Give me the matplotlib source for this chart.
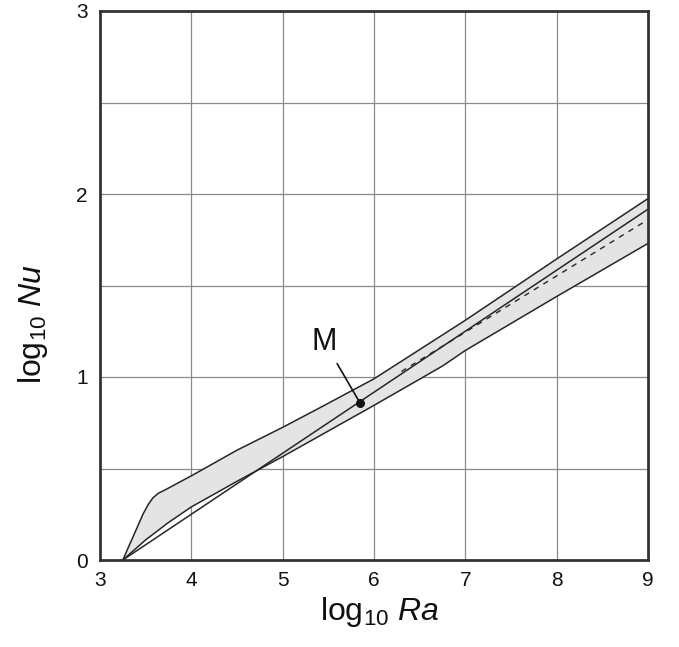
import matplotlib
matplotlib.use("Agg")
import matplotlib.pyplot as plt
import numpy as np

plt.rcParams['font.family'] = ['Liberation Sans', 'DejaVu Sans']
plt.rcParams['mathtext.fontset'] = 'custom'
plt.rcParams['mathtext.rm'] = 'Liberation Sans'
plt.rcParams['mathtext.it'] = 'Liberation Sans:italic'

# Data
upper_x = [3.25, 3.32, 3.40, 3.47, 3.53, 3.58, 3.64, 3.72, 3.85, 4.0, 4.5, 5.0, 5.4, 6.0, 7.0, 8.0, 9.0]
upper_y = [0.0, 0.08, 0.17, 0.25, 0.305, 0.34, 0.365, 0.385, 0.42, 0.46, 0.60, 0.725, 0.83, 0.99, 1.31, 1.645, 1.975]
lower_x = [3.25, 3.5, 3.75, 4.0, 4.5, 5.0, 5.5, 6.0, 6.75, 7.0, 8.0, 9.0]
lower_y = [0.0, 0.11, 0.205, 0.29, 0.43, 0.565, 0.705, 0.845, 1.06, 1.145, 1.44, 1.73]
line_x = [3.25, 9.0]
line_y = [0.0, 1.917]
dash_x = [6.3, 9.0]
dash_y = [1.03, 1.86]
m_x, m_y = 5.845, 0.86
m_text_x, m_text_y = 5.46, 1.19
x_ticks = [3, 4, 5, 6, 7, 8, 9]
y_ticks = [0, 1, 2, 3]
y_grid = [0.5, 1.0, 1.5, 2.0, 2.5]

fig = plt.figure(figsize=(6.79, 6.47), dpi=100)
ax = fig.add_axes([100/679, 87/647, 548/679, 549/647])
ax.set_xlim(3, 9)
ax.set_ylim(0, 3)

# grid
for gx in x_ticks[1:-1]:
    ax.axvline(gx, color='#8a8a8a', lw=0.9, zorder=0)
for gy in y_grid:
    ax.axhline(gy, color='#8a8a8a', lw=0.9, zorder=0)

poly_x = np.concatenate([upper_x, lower_x[::-1]])
poly_y = np.concatenate([upper_y, lower_y[::-1]])
ax.fill(poly_x, poly_y, color='#e4e4e4', zorder=1, lw=0)
lc = '#262626'
ax.plot(upper_x, upper_y, color=lc, lw=1.1, zorder=2)
ax.plot(lower_x, lower_y, color=lc, lw=1.1, zorder=2)
ax.plot(line_x, line_y, color=lc, lw=1.1, zorder=2)
ax.plot(dash_x, dash_y, color=lc, lw=1.0, ls=(0, (4, 4)), zorder=2)
ax.plot([m_x], [m_y], 'o', color='#111111', ms=5.5, zorder=3)
ax.annotate('M', xy=(m_x, m_y), xytext=(m_text_x, m_text_y), ha='center', va='center',
            fontsize=22, color='#111111',
            arrowprops=dict(arrowstyle='-', color='#111111', lw=1.2, shrinkA=3, shrinkB=2))

ax.set_xticks(x_ticks)
ax.set_yticks(y_ticks)
ax.tick_params(length=0, labelsize=15, colors='#111111')
ax.tick_params(axis='x', pad=8)
ax.tick_params(axis='y', pad=9)
for s in ax.spines.values():
    s.set_color('#333333')
    s.set_linewidth(2.0)
    s.set_zorder(5)

fig.text(380/679, 1 - 612/647, r'log$_{10}$ $\mathit{Ra}$', ha='center', va='center', fontsize=23, color='#111111')
fig.text(33/679, 1 - 324/647, r'log$_{10}$ $\mathit{Nu}$', ha='center', va='center', fontsize=23, color='#111111', rotation=90)

fig.savefig('out.png', dpi=100)
